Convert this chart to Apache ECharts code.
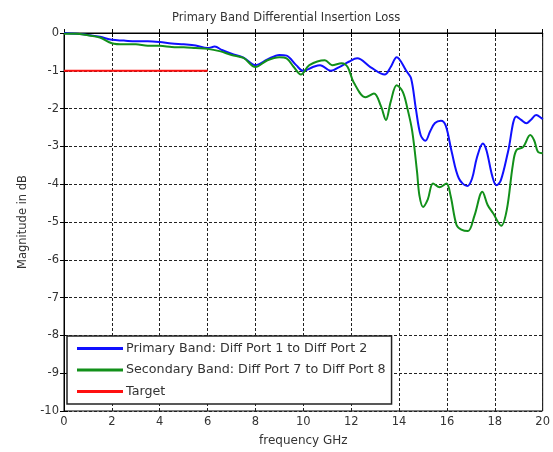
<!DOCTYPE html>
<html><head><meta charset="utf-8">
<script src="https://cdn.jsdelivr.net/npm/echarts@6/dist/echarts.min.js"></script>
<style>html,body{margin:0;padding:0;background:#fff}#c{width:553px;height:452px}</style>
</head><body><div id="c"></div>
<script>
const xTicks = [0,2,4,6,8,10,12,14,16,18,20];
const yTicks = [0,-1,-2,-3,-4,-5,-6,-7,-8,-9,-10];
const primaryFreq = [0,0.5,1,1.5,2,2.5,3,3.5,4,4.5,5,5.5,6,6.3,6.6,7,7.5,8,8.5,9,9.3,9.7,10,10.4,10.7,11.15,11.5,11.9,12.25,12.8,13.4,13.65,13.9,14.3,14.5,14.7,14.9,15.1,15.3,15.5,15.75,15.95,16.2,16.5,16.85,17.05,17.25,17.5,17.65,17.9,18.07,18.25,18.55,18.9,19.1,19.32,19.5,19.73,19.95,20];
const primaryDb = [0,-0.02,-0.05,-0.1,-0.18,-0.2,-0.22,-0.22,-0.24,-0.28,-0.3,-0.33,-0.4,-0.36,-0.45,-0.55,-0.65,-0.85,-0.7,-0.58,-0.6,-0.85,-1.0,-0.9,-0.85,-1.0,-0.9,-0.76,-0.67,-0.9,-1.1,-0.9,-0.64,-1.0,-1.2,-2.0,-2.7,-2.85,-2.6,-2.38,-2.32,-2.45,-3.15,-3.85,-4.05,-3.85,-3.3,-2.92,-3.1,-3.8,-4.03,-3.9,-3.15,-2.21,-2.3,-2.39,-2.3,-2.17,-2.25,-2.28];
const secondaryFreq = [0,0.5,1,1.5,2,2.5,3,3.5,4,4.5,5,5.5,6,6.5,7,7.5,8,8.5,9,9.3,9.6,9.9,10.25,10.9,11.2,11.6,11.85,12.1,12.6,12.95,13.25,13.45,13.65,13.9,14.15,14.35,14.55,14.75,14.85,15.0,15.2,15.42,15.7,15.98,16.15,16.4,16.6,16.88,17.15,17.48,17.7,17.93,18.27,18.5,18.75,18.9,19.18,19.48,19.65,19.8,20];
const secondaryDb = [-0.02,-0.02,-0.06,-0.12,-0.27,-0.3,-0.3,-0.34,-0.34,-0.37,-0.38,-0.4,-0.42,-0.48,-0.58,-0.66,-0.9,-0.72,-0.64,-0.67,-0.9,-1.1,-0.85,-0.72,-0.85,-0.8,-0.9,-1.3,-1.7,-1.6,-1.95,-2.3,-1.82,-1.38,-1.55,-2.0,-2.6,-3.67,-4.3,-4.6,-4.4,-3.98,-4.08,-3.98,-4.3,-5.08,-5.2,-5.24,-4.83,-4.2,-4.55,-4.77,-5.1,-4.68,-3.5,-3.1,-3.02,-2.7,-2.85,-3.14,-3.18];
const targetFreq = [0,6];
const targetDb = [-1,-1];
const names = ['Primary Band: Diff Port 1 to Diff Port 2','Secondary Band: Diff Port 7 to Diff Port 8','Target'];

const zip = (a,b)=>a.map((v,i)=>[v,b[i]]);
const font = 'DejaVu Sans, Verdana, sans-serif';
const grid = {left:64, top:33, width:479, height:378, show:true, borderColor:'#000', borderWidth:1, backgroundColor:'#fff'};
const split = {show:true, lineStyle:{color:'#222', type:[3,2], width:1}};
const chart = echarts.init(document.getElementById('c'), null, {renderer:'canvas'});
chart.setOption({
  animation:false,
  backgroundColor:'#fff',
  title:{text:'Primary Band Differential Insertion Loss', left:167, top:7,
    textStyle:{fontFamily:font, fontSize:11.5, fontWeight:'normal', color:'#333'}},
  grid:grid,
  legend:{orient:'vertical', left:67, top:336, padding:[5,6,5,10], itemGap:6.5,
    itemWidth:46, itemHeight:3, icon:'rect', backgroundColor:'#fff', borderColor:'#222', borderWidth:1.5,
    textStyle:{fontFamily:font, fontSize:12.7, color:'#333', padding:[0,0,0,-2], lineHeight:15}, data:names},
  xAxis:[{type:'value', min:xTicks[0], max:xTicks[xTicks.length-1], interval:2, position:'bottom',
    name:'frequency GHz', nameLocation:'middle', nameGap:24,
    nameTextStyle:{fontFamily:font, fontSize:12, color:'#333'},
    axisLine:{show:true, lineStyle:{color:'#000'}}, axisTick:{show:true, inside:true, length:4, lineStyle:{color:'#000'}},
    axisLabel:{fontFamily:font, fontSize:11.5, color:'#333', margin:5}, splitLine:split},
   {type:'value', min:0, max:20, interval:2, position:'top', axisLine:{show:true, lineStyle:{color:'#000'}},
    axisTick:{show:true, inside:true, length:4, lineStyle:{color:'#000'}}, axisLabel:{show:false}, splitLine:{show:false}}],
  yAxis:[{type:'value', min:yTicks[yTicks.length-1], max:yTicks[0], interval:1, position:'left',
    name:'Magnitude in dB', nameLocation:'middle', nameGap:33, nameRotate:90,
    nameTextStyle:{fontFamily:font, fontSize:11.5, color:'#333'},
    axisLine:{show:true, lineStyle:{color:'#000'}}, axisTick:{show:true, inside:true, length:4, lineStyle:{color:'#000'}},
    axisLabel:{fontFamily:font, fontSize:11.5, color:'#333', margin:5}, splitLine:split},
   {type:'value', min:-10, max:0, interval:1, position:'right', axisLine:{show:true, lineStyle:{color:'#000'}},
    axisTick:{show:true, inside:true, length:4, lineStyle:{color:'#000'}}, axisLabel:{show:false}, splitLine:{show:false}}],
  series:[
    {name:names[0], type:'line', data:zip(primaryFreq,primaryDb), showSymbol:false, smooth:0.35,
      itemStyle:{color:'#1010ff'}, lineStyle:{color:'#1010ff', width:2}},
    {name:names[1], type:'line', data:zip(secondaryFreq,secondaryDb), showSymbol:false, smooth:0.35,
      itemStyle:{color:'#12901a'}, lineStyle:{color:'#12901a', width:2}},
    {name:names[2], type:'line', data:zip(targetFreq,targetDb), showSymbol:false,
      itemStyle:{color:'#ff1010'}, lineStyle:{color:'#ff1010', width:2}}
  ]
});
</script></body></html>
